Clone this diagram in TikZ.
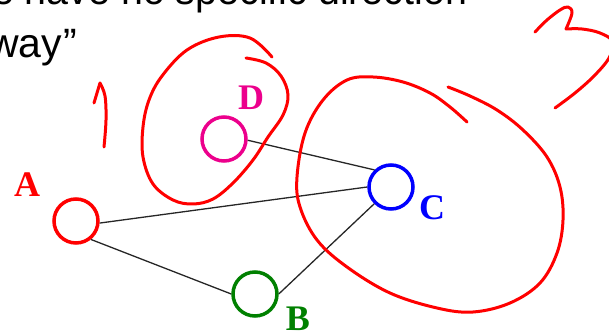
\documentclass[tikz,border=0pt]{standalone}
\usepackage{fontspec}
\setmainfont{Liberation Serif}
\newfontfamily\slidefont{Liberation Sans}
\begin{document}
\begin{tikzpicture}[x=1pt,y=-1pt,
  vert/.style={circle, draw, line width=3.5pt, minimum size=44pt, inner sep=0pt},
  edge/.style={draw=black!85, line width=1.3pt},
  lab/.style={font=\fontsize{36}{36}\selectfont\bfseries, inner sep=0pt},
  ink/.style={red, line width=3pt, line cap=round, line join=round},
  slide/.style={font=\slidefont\fontsize{41}{49}\selectfont, inner sep=0pt}]
\useasboundingbox (0,0) rectangle (609,336);
\clip (0,0) rectangle (609,336);

% slide text (cut off at the top and left)
\node[slide, anchor=base west] (t1) at (-8,5) {\scalebox{0.96}[1]{e have no specific direction}};
\node[slide, anchor=base east] (t2) at (77,58) {way\kern1pt”};

% vertices
\node[vert, draw=red] (A) at (76,221) {};
\node[vert, draw=magenta] (D) at (224,139) {};
\node[vert, draw=blue] (C) at (391,187) {};
\node[vert, draw=green!50!black] (B) at (255,294) {};

% labels
\node[lab, text=red] (la) at (27,185) {A};
\node[lab, text=magenta] (ld) at (251,98) {D};
\node[lab, text=blue] (lc) at (432,208) {C};
\node[lab, text=green!50!black] (lb) at (298,319) {B};

% edges
\draw[edge] (D.-3) -- (C.134);
\draw[edge] (A.-5) -- (C.180);
\draw[edge] (A.-51) -- (B.180);
\draw[edge] (B.0) -- (C.225);

% hand-drawn annotations
\draw[ink] (94,103) -- (100,83);
\draw[ink] plot[smooth, tension=0.6] coordinates {(100,83) (105,96) (106,120) (104,147)};

\draw[ink] plot[smooth, tension=0.6] coordinates {(246,58) (266,63) (281,76) (288,95) (283,115) (268,137) (253,160) (233,183) (213,199) (193,204) (173,200) (153,184) (143,157) (143,127) (149,100) (162,76) (187,50) (219,37) (250,38) (272,57)};

\draw[ink] plot[smooth, tension=0.6] coordinates {(467,122) (450,107) (430,93) (403,82) (373,77) (347,80) (323,100) (305,133) (297,177) (300,207) (317,240) (347,267) (390,293) (437,308) (473,312) (510,303) (540,283) (557,253) (563,220) (560,187) (547,157) (523,130) (497,110) (470,96) (448,87)};

\draw[ink] plot[smooth, tension=0.6] coordinates {(535,32) (547,20) (560,10) (568,7) (572,13) (566,29)};
\draw[ink] plot[smooth, tension=0.6] coordinates {(566,29) (582,29) (600,33) (613,42) (609,58) (594,76) (575,93) (555,108)};
\end{tikzpicture}
\end{document}
